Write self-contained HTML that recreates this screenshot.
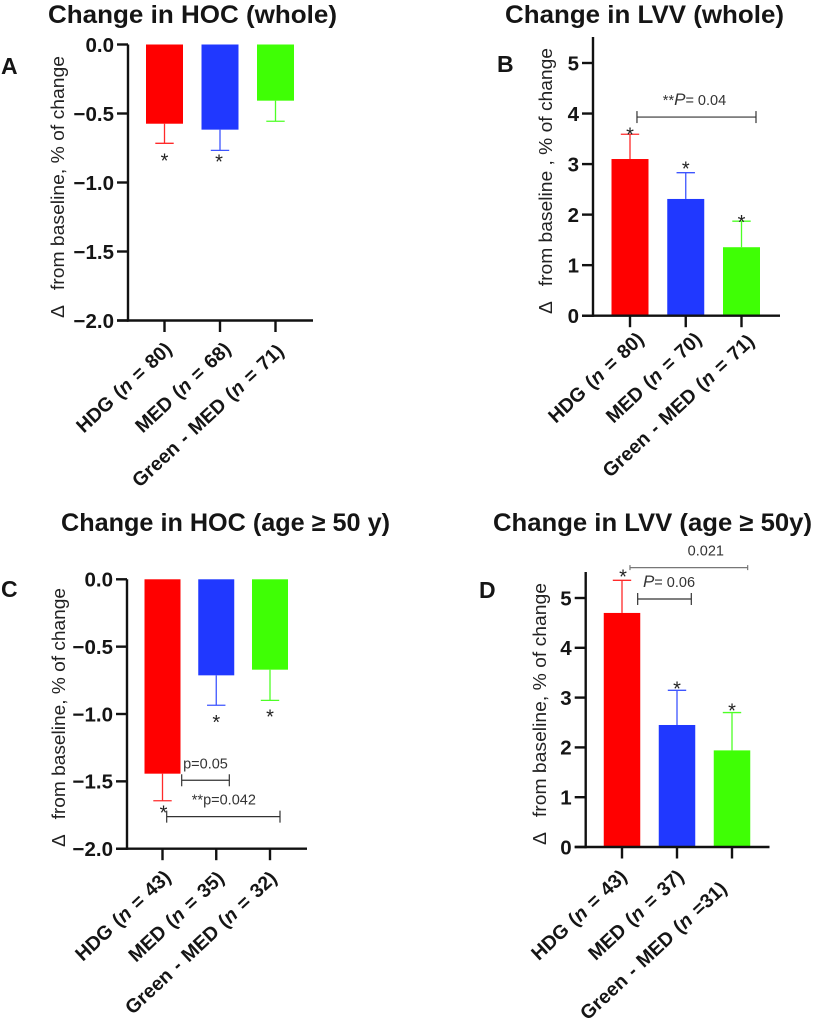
<!DOCTYPE html>
<html lang="en">
<head>
<meta charset="utf-8">
<title>Change in HOC and LVV</title>
<style>
html,body{margin:0;padding:0;background:#fff;width:814px;height:1024px;overflow:hidden}
svg{display:block;font-family:"Liberation Sans",sans-serif}
.title{font-weight:700;font-size:25px;fill:#151515}
.panel{font-weight:700;font-size:23px;fill:#151515}
.ytitle{font-size:18px;fill:#222;white-space:pre}
.tick{font-weight:700;font-size:20.5px;fill:#151515}
.cat{font-weight:700;font-size:19.5px;fill:#151515;word-spacing:1.5px}
.note{font-size:14.5px;fill:#333}
.star{font-size:20px;fill:#222}
</style>
</head>
<body>
<svg id="chart" width="814" height="1024" viewBox="0 0 814 1024" xmlns="http://www.w3.org/2000/svg">
  <rect width="814" height="1024" fill="#fff"/>
  <text class="title" x="48" y="23" textLength="289" lengthAdjust="spacingAndGlyphs">Change in HOC (whole)</text>
  <text class="title" x="505" y="23" textLength="279" lengthAdjust="spacingAndGlyphs">Change in LVV (whole)</text>
  <text class="title" x="61" y="531" textLength="329" lengthAdjust="spacingAndGlyphs">Change in HOC (age ≥ 50 y)</text>
  <text class="title" x="493" y="531" textLength="319" lengthAdjust="spacingAndGlyphs">Change in LVV (age ≥ 50y)</text>
  <text class="panel" x="1" y="74">A</text>
  <text class="panel" x="497" y="72">B</text>
  <text class="panel" x="1" y="597">C</text>
  <text class="panel" x="479" y="598">D</text>
  <text class="ytitle" transform="translate(64,318) rotate(-90)" textLength="262" lengthAdjust="spacingAndGlyphs">Δ   from baseline, % of change</text>
  <text class="ytitle" transform="translate(552,314) rotate(-90)" textLength="266" lengthAdjust="spacingAndGlyphs">Δ   from baseline , % of change</text>
  <text class="ytitle" transform="translate(65,847) rotate(-90)" textLength="259" lengthAdjust="spacingAndGlyphs">Δ   from baseline, % of change</text>
  <text class="ytitle" transform="translate(546,845) rotate(-90)" textLength="262" lengthAdjust="spacingAndGlyphs">Δ   from baseline, % of change</text>
</svg>
<script>
var barColors = ['#ff0000', '#2038ff', '#3fff05'];
var errColors = ['#ff2a2a', '#3d55ff', '#4dff25'];

var hocWholeCats = ['HDG (n = 80)', 'MED (n = 68)', 'Green - MED (n = 71)'];
var hocWholeMeans = [-0.574, -0.617, -0.407];
var hocWholeErrEnds = [-0.716, -0.767, -0.556];
var hocWholeTicks = [0, -0.5, -1, -1.5, -2];

var lvvWholeCats = ['HDG (n = 80)', 'MED (n = 70)', 'Green - MED (n = 71)'];
var lvvWholeMeans = [3.10, 2.31, 1.355];
var lvvWholeErrEnds = [3.59, 2.83, 1.87];
var lvvWholeTicks = [0, 1, 2, 3, 4, 5];

var hocAgeCats = ['HDG (n = 43)', 'MED (n = 35)', 'Green - MED (n = 32)'];
var hocAgeMeans = [-1.443, -0.713, -0.671];
var hocAgeErrEnds = [-1.644, -0.935, -0.899];
var hocAgeTicks = [0, -0.5, -1, -1.5, -2];

var lvvAgeCats = ['HDG (n = 43)', 'MED (n = 37)', 'Green - MED (n =31)'];
var lvvAgeMeans = [4.70, 2.45, 1.94];
var lvvAgeErrEnds = [5.355, 3.146, 2.70];
var lvvAgeTicks = [0, 1, 2, 3, 4, 5];

var svg = document.getElementById('chart');
var NS = 'http://www.w3.org/2000/svg';

function make(tag, attrs, name, parent) {
  var el = document.createElementNS(NS, tag);
  for (var k in attrs) el.setAttribute(k, attrs[k]);
  
  
  (parent || svg).appendChild(el);
  return el;
}

function fmtTick(v, decimals) {
  return (v < 0 ? '\u2212' : '') + Math.abs(v).toFixed(decimals);
}

function drawPanel(p) {
  var g = make('g', {}, 'panel-' + p.id);
  function y(v) { return p.yZero - v * p.unitPx; }
  function x(i) { return p.xFirst + i * p.xStep; }
  var axis = {stroke: '#111', 'stroke-width': 2.4};

  // bars
  p.means.forEach(function (m, i) {
    var top = Math.min(y(0), y(m));
    var h = Math.abs(y(m) - y(0));
    make('rect', {x: x(i) - p.barW / 2, y: top, width: p.barW, height: h, fill: barColors[i]}, 'bar-' + p.id + '-' + (i + 1), g);
    make('line', {x1: x(i), x2: x(i), y1: y(m), y2: y(p.errEnds[i]), stroke: errColors[i], 'stroke-width': 1.3}, 'error-stem-' + p.id + '-' + (i + 1), g);
    make('line', {x1: x(i) - 9.2, x2: x(i) + 9.2, y1: y(p.errEnds[i]), y2: y(p.errEnds[i]), stroke: errColors[i], 'stroke-width': 1.3}, 'error-cap-' + p.id + '-' + (i + 1), g);
    if (p.starGap[i] !== null) {
      var star = make('text', {x: x(i) + p.starDx[i], y: y(p.errEnds[i]) + p.starGap[i] + 11, 'text-anchor': 'middle', 'class': 'star'}, 'significance-star-' + p.id + '-' + (i + 1), g);
      star.textContent = '*';
    }
  });

  // axes
  make('line', Object.assign({x1: p.xAxis, x2: p.xAxis, y1: p.axisTop, y2: p.axisBottom + 1.2}, axis), 'y-axis-' + p.id, g);
  make('line', Object.assign({x1: p.xAxis - 11, x2: p.xEnd, y1: p.catAxisY, y2: p.catAxisY}, axis), 'x-axis-' + p.id, g);

  // y ticks
  p.ticks.forEach(function (t) {
    make('line', Object.assign({x1: p.xAxis - 11, x2: p.xAxis, y1: y(t), y2: y(t)}, axis), 'y-tick-' + p.id, g);
    var lab = make('text', {x: p.xAxis - 14, y: y(t) + 7.3, 'text-anchor': 'end', 'class': 'tick'}, 'y-tick-label-' + p.id, g);
    lab.textContent = fmtTick(t, p.decimals);
  });

  // categories
  p.cats.forEach(function (c, i) {
    make('line', Object.assign({x1: x(i), x2: x(i), y1: p.catAxisY, y2: p.catAxisY + 11.5}, axis), 'x-tick-' + p.id + '-' + (i + 1), g);
    var ex = x(i) + p.catDx[i];
    var ey = p.catAxisY + p.catDy[i];
    var lab = make('text', {'text-anchor': 'end', 'class': 'cat', transform: 'translate(' + ex + ',' + ey + ') rotate(-43)'}, 'category-label-' + p.id + '-' + (i + 1), g);
    var parts = c.split('(n');
    lab.appendChild(document.createTextNode(parts[0] + '('));
    var it = document.createElementNS(NS, 'tspan');
    it.setAttribute('font-style', 'italic');
    
    
    it.textContent = 'n';
    lab.appendChild(it);
    lab.appendChild(document.createTextNode(parts[1]));
  });

  // comparison brackets
  p.brackets.forEach(function (b, n) {
    var xa = x(b.from), xb = x(b.to), yy = y(b.value);
    var st = {stroke: b.color, 'stroke-width': 1.2};
    make('line', Object.assign({x1: xa, x2: xb, y1: yy, y2: yy}, st), 'comparison-bracket-' + p.id + '-' + (n + 1), g);
    make('line', Object.assign({x1: xa, x2: xa, y1: yy - b.cap, y2: yy + b.cap}, st), 'bracket-cap-left-' + p.id + '-' + (n + 1), g);
    make('line', Object.assign({x1: xb, x2: xb, y1: yy - b.cap, y2: yy + b.cap}, st), 'bracket-cap-right-' + p.id + '-' + (n + 1), g);
    var lab = make('text', {x: (xa + xb) / 2 + b.dx, y: yy - 12, 'text-anchor': 'middle', 'class': 'note'}, 'p-value-label-' + p.id + '-' + (n + 1), g);
    lab.appendChild(document.createTextNode(b.pre));
    if (b.italic) {
      var it = document.createElementNS(NS, 'tspan');
      it.setAttribute('font-style', 'italic');
      it.setAttribute('font-size', '17');
      
      
      it.textContent = b.italic;
      lab.appendChild(it);
    }
    lab.appendChild(document.createTextNode(b.post));
  });
}

drawPanel({
  id: 'a', cats: hocWholeCats, means: hocWholeMeans, errEnds: hocWholeErrEnds, ticks: hocWholeTicks, decimals: 1,
  yZero: 44.5, unitPx: 138, xAxis: 128, axisTop: 44.5, axisBottom: 320.5, catAxisY: 320.5, xEnd: 313,
  xFirst: 164.5, xStep: 55.5, barW: 37, starGap: [13, 7, null], starDx: [0, -1, 0],
  catDx: [8.5, 12, 9.5], catDy: [30, 30, 32], brackets: []
});
drawPanel({
  id: 'b', cats: lvvWholeCats, means: lvvWholeMeans, errEnds: lvvWholeErrEnds, ticks: lvvWholeTicks, decimals: 0,
  yZero: 315.7, unitPx: 50.54, xAxis: 593, axisTop: 37, axisBottom: 315.7, catAxisY: 315.7, xEnd: 780,
  xFirst: 630, xStep: 55.75, barW: 37, starGap: [-4, -8, -3], starDx: [0, 0, 0],
  catDx: [15, 17, 14], catDy: [25, 25, 27],
  brackets: [{from: 0.125, to: 2.26, value: 3.93, cap: 6, color: '#333', dx: -2, pre: '**', italic: 'P', post: '= 0.04'}]
});
drawPanel({
  id: 'c', cats: hocAgeCats, means: hocAgeMeans, errEnds: hocAgeErrEnds, ticks: hocAgeTicks, decimals: 1,
  yZero: 579.3, unitPx: 134.7, xAxis: 127, axisTop: 579.3, axisBottom: 848.7, catAxisY: 848.7, xEnd: 307,
  xFirst: 162.5, xStep: 53.75, barW: 36, starGap: [8, 13, 12], starDx: [1, 0, 0],
  catDx: [9.5, 9, 8], catDy: [30, 31, 31],
  brackets: [
    {from: 0.357, to: 1.243, value: -1.492, cap: 6, color: '#333', dx: 0, pre: 'p=0.05', italic: '', post: ''},
    {from: 0.078, to: 2.186, value: -1.762, cap: 6, color: '#333', dx: 0.5, pre: '**p=0.042', italic: '', post: ''}
  ]
});
drawPanel({
  id: 'd', cats: lvvAgeCats, means: lvvAgeMeans, errEnds: lvvAgeErrEnds, ticks: lvvAgeTicks, decimals: 0,
  yZero: 847, unitPx: 49.8, xAxis: 585.7, axisTop: 572, axisBottom: 847, catAxisY: 847, xEnd: 769.5,
  xFirst: 622, xStep: 55, barW: 36.5, starGap: [-8, -6, -6], starDx: [1, 0, 0],
  catDx: [6, 8, -4], catDy: [31, 31, 43],
  brackets: [
    {from: 0.145, to: 2.285, value: 5.61, cap: 2.5, color: '#777', dx: 17, pre: '0.021', italic: '', post: ''},
    {from: 0.285, to: 1.26, value: 4.98, cap: 6, color: '#333', dx: 4.5, pre: '', italic: 'P', post: '= 0.06'}
  ]
});
</script>
</body>
</html>
